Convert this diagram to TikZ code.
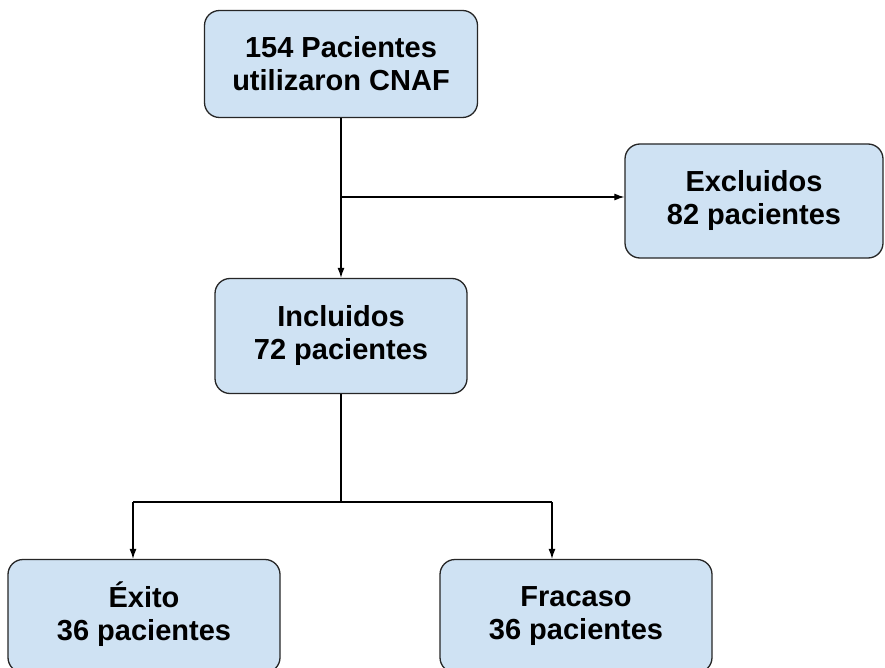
\documentclass[tikz,border=0pt]{standalone}
\usepackage{fontspec}
\setmainfont{Liberation Sans}
\usetikzlibrary{arrows.meta}
\definecolor{boxblue}{HTML}{CFE2F3}
\tikzset{
	caja/.style={draw=black!85, fill=boxblue, line width=1.3pt, rounded corners=15pt,
		align=center, minimum height=112pt, inner sep=0pt,
		font=\fontsize{29}{33}\selectfont\bfseries},
	flecha/.style={line width=1.1pt, -{Latex[length=10pt,width=7pt]}}
}
\begin{document}
\begin{tikzpicture}[x=1pt, y=-1pt]
	\clip (0, 0) rectangle (885, 668);
	\fill[white] (0, 0) rectangle (885, 668);

	\node[caja, minimum width=273pt, minimum height=107pt] (total) at (341, 64) {154 Pacientes\\utilizaron CNAF};
	\node[caja, minimum width=258pt, minimum height=114pt] (excl) at (754, 201) {Excluidos\\82 pacientes};
	\node[caja, minimum width=252pt, minimum height=115pt] (incl) at (341, 336) {Incluidos\\72 pacientes};
	\node[caja, minimum width=272pt, minimum height=113pt] (exito) at (144, 616) {\smash{É}xito\\36 pacientes};
	\node[caja, minimum width=272pt, minimum height=113pt] (fracaso) at (576, 616) {Fracaso\\36 pacientes};

	\coordinate (split) at (342, 197);
	\coordinate (rama) at (341, 502);
	\coordinate (ramaI) at (133, 502);
	\coordinate (ramaD) at (552, 502);

	\draw[flecha] (total.south) -- (incl.north);
	\draw[flecha] (split) -- (split -| excl.west);
	\draw[line width=1.1pt] (incl.south) -- (rama);
	\draw[line width=1.1pt] (ramaI) -- (ramaD);
	\draw[flecha] (ramaI) -- (ramaI |- exito.north);
	\draw[flecha] (ramaD) -- (ramaD |- fracaso.north);
\end{tikzpicture}
\end{document}
